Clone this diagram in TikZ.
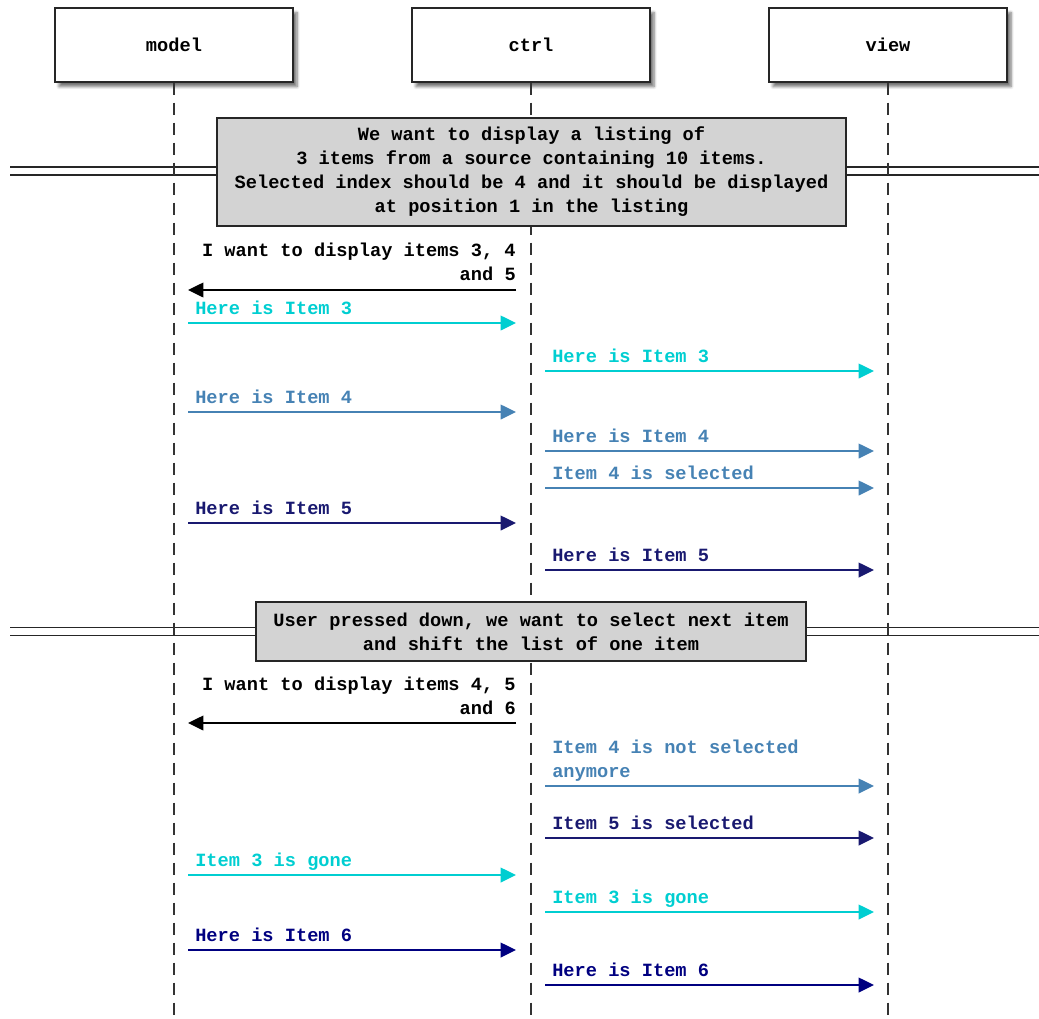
\documentclass[tikz,border=0pt]{standalone}
\usepackage{fontspec}
\setmainfont{Liberation Mono}
\usetikzlibrary{arrows.meta,shadows.blur}

\definecolor{msgcyan}{HTML}{00CED1}
\definecolor{msgsteel}{HTML}{4682B4}
\definecolor{msgmidnight}{HTML}{191970}
\definecolor{msgnavy}{HTML}{000080}
\definecolor{notegray}{HTML}{D3D3D3}

\begin{document}
\begin{tikzpicture}[x=0.75pt,y=-0.75pt,
  font=\fontsize{14}{18}\selectfont\bfseries,
  actor/.style={draw=black!85, line width=1.1pt, fill=white,
    minimum width=178.5pt, minimum height=55.5pt, inner sep=0pt,
    blur shadow={shadow xshift=3pt, shadow yshift=-3.5pt,
      shadow blur steps=6, shadow opacity=55}},
  lifeline/.style={draw=black!80, line width=1.1pt, dash pattern=on 9pt off 6pt},
  notebox/.style={draw=black!85, fill=notegray, line width=1.2pt,
    align=center, inner sep=0pt},
  divider/.style={draw=black!85, double=white, double distance=4.6pt, line width=1.2pt},
  msg/.style={line width=1.1pt, -{Triangle[length=11.5pt,width=11pt]}},
  lbl/.style={inner sep=0pt, anchor=base west, align=left},
  rlbl/.style={inner sep=0pt, anchor=base east, align=right},
]
\useasboundingbox (0,0) rectangle (1039,1018);

% participants
\node[actor] (model) at (174,45) {model};
\node[actor] (ctrl)  at (531,45) {ctrl};
\node[actor] (view)  at (888,45) {view};

% lower ends of the lifelines
\coordinate (modelEnd) at (174,1018);
\coordinate (ctrlEnd)  at (531,1018);
\coordinate (viewEnd)  at (888,1018);

% section dividers
\coordinate (div1L) at (10,171);   \coordinate (div1R) at (1039,171);
\coordinate (div2L) at (10,631.5); \coordinate (div2R) at (1039,631.5);
\draw[divider] (div1L) -- (div1R);
\draw[divider] (div2L) -- (div2R);

% lifelines
\draw[lifeline] (model.south) -- (modelEnd);
\draw[lifeline] (ctrl.south)  -- (ctrlEnd);
\draw[lifeline] (view.south)  -- (viewEnd);

% notes
\node[notebox, minimum width=471.75pt, minimum height=81pt] (note1) at (531.5,172)
  {We want to display a listing of\\3 items from a source containing 10 items.\\Selected index should be 4 and it should be displayed\\at position 1 in the listing};
\node[notebox, minimum width=412.5pt, minimum height=44.25pt] (note2) at (531,631.5)
  {User pressed down, we want to select next item\\and shift the list of one item};

% message end points: m = model side, c = ctrl side (left), d = ctrl side (right), v = view side
\coordinate (c1) at (516,290);  \coordinate (m1) at (188,290);
\coordinate (m2) at (188,323);  \coordinate (c2) at (516,323);
\coordinate (d3) at (545,371);  \coordinate (v3) at (874,371);
\coordinate (m4) at (188,412);  \coordinate (c4) at (516,412);
\coordinate (d5) at (545,451);  \coordinate (v5) at (874,451);
\coordinate (d6) at (545,488);  \coordinate (v6) at (874,488);
\coordinate (m7) at (188,523);  \coordinate (c7) at (516,523);
\coordinate (d8) at (545,570);  \coordinate (v8) at (874,570);
\coordinate (c9) at (516,723);  \coordinate (m9) at (188,723);
\coordinate (d10) at (545,786); \coordinate (v10) at (874,786);
\coordinate (d11) at (545,838); \coordinate (v11) at (874,838);
\coordinate (m12) at (188,875); \coordinate (c12) at (516,875);
\coordinate (d13) at (545,912); \coordinate (v13) at (874,912);
\coordinate (m14) at (188,950); \coordinate (c14) at (516,950);
\coordinate (d15) at (545,985); \coordinate (v15) at (874,985);

% first listing
\draw[msg, black] (c1) -- (m1);
\node[rlbl] (t1) at ([shift={(0,-10)}]c1) {I want to display items 3, 4\\and 5};
\draw[msg, msgcyan] (m2) -- (c2);
\node[lbl, text=msgcyan] (t2) at ([shift={(7,-9)}]m2) {Here is Item 3};
\draw[msg, msgcyan] (d3) -- (v3);
\node[lbl, text=msgcyan] (t3) at ([shift={(7,-9)}]d3) {Here is Item 3};
\draw[msg, msgsteel] (m4) -- (c4);
\node[lbl, text=msgsteel] (t4) at ([shift={(7,-9)}]m4) {Here is Item 4};
\draw[msg, msgsteel] (d5) -- (v5);
\node[lbl, text=msgsteel] (t5) at ([shift={(7,-9)}]d5) {Here is Item 4};
\draw[msg, msgsteel] (d6) -- (v6);
\node[lbl, text=msgsteel] (t6) at ([shift={(7,-9)}]d6) {Item 4 is selected};
\draw[msg, msgmidnight] (m7) -- (c7);
\node[lbl, text=msgmidnight] (t7) at ([shift={(7,-9)}]m7) {Here is Item 5};
\draw[msg, msgmidnight] (d8) -- (v8);
\node[lbl, text=msgmidnight] (t8) at ([shift={(7,-9)}]d8) {Here is Item 5};

% after moving down
\draw[msg, black] (c9) -- (m9);
\node[rlbl] (t9) at ([shift={(0,-9)}]c9) {I want to display items 4, 5\\and 6};
\draw[msg, msgsteel] (d10) -- (v10);
\node[lbl, text=msgsteel] (t10) at ([shift={(7,-9)}]d10) {Item 4 is not selected\\anymore};
\draw[msg, msgmidnight] (d11) -- (v11);
\node[lbl, text=msgmidnight] (t11) at ([shift={(7,-9)}]d11) {Item 5 is selected};
\draw[msg, msgcyan] (m12) -- (c12);
\node[lbl, text=msgcyan] (t12) at ([shift={(7,-9)}]m12) {Item 3 is gone};
\draw[msg, msgcyan] (d13) -- (v13);
\node[lbl, text=msgcyan] (t13) at ([shift={(7,-9)}]d13) {Item 3 is gone};
\draw[msg, msgnavy] (m14) -- (c14);
\node[lbl, text=msgnavy] (t14) at ([shift={(7,-9)}]m14) {Here is Item 6};
\draw[msg, msgnavy] (d15) -- (v15);
\node[lbl, text=msgnavy] (t15) at ([shift={(7,-9)}]d15) {Here is Item 6};
\end{tikzpicture}
\end{document}
